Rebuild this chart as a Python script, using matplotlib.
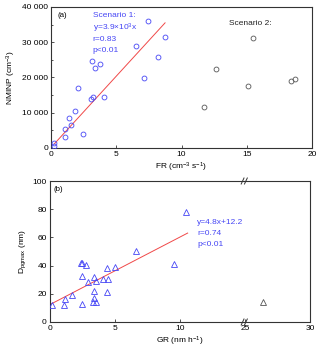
import matplotlib
matplotlib.use("Agg")
import matplotlib.pyplot as plt
from matplotlib.ticker import MultipleLocator, FuncFormatter
from matplotlib.lines import Line2D

plt.rcParams['font.family'] = ['Liberation Sans', 'DejaVu Sans']
plt.rcParams['mathtext.fontset'] = 'custom'
plt.rcParams['mathtext.rm'] = 'Liberation Sans'
plt.rcParams['mathtext.it'] = 'Liberation Sans'

# ---- Panel (a) data ----
s1_fr = [0.26, 0.22, 1.1, 1.1, 1.38, 1.56, 1.86, 2.09, 2.48, 3.07, 3.19, 3.17, 3.37, 3.75, 4.06,
         6.54, 7.15, 7.46, 8.22, 8.74]
s1_nminp = [1300, 500, 3100, 5500, 8500, 6600, 10400, 17000, 4100, 13900, 14400, 24800, 22600, 23800, 14600,
            28800, 19800, 35900, 25700, 31400]
s2_fr = [11.72, 12.62, 15.1, 15.5, 18.4, 18.7]
s2_nminp = [11600, 22300, 17500, 31300, 18900, 19700]
fit_a_x = [0.26, 8.74]
fit_a_y = [1200, 35500]

# ---- Panel (b) data ----
gr = [0.23, 1.15, 1.22, 1.71, 2.4, 2.5, 2.81, 2.53, 2.53, 2.98, 3.44, 3.55, 3.39, 3.37, 3.42, 3.6,
      4.08, 4.39, 4.46, 4.39, 5.0, 6.66, 9.54, 10.51]
dp = [11.8, 11.8, 16.1, 18.9, 42.1, 42.1, 40.2, 32.4, 12.8, 28.1, 32.2, 28.8, 22.0, 14.2, 17.0, 14.2,
      30.3, 38.1, 30.3, 21.3, 39.2, 50.4, 41.1, 78.0]
gr_out = [26.4]
dp_out = [13.9]
fit_b_x = [0.05, 10.6]
fit_b_slope = 4.8
fit_b_icpt = 12.2

BLUE = '#4646f5'
GRAY = '#555555'
RED = '#f04848'
SPINE = '#333333'
FS = 6.0
FT = 6.0

fig = plt.figure(figsize=(3.2, 3.52), dpi=100)

def style(ax):
    for s in ax.spines.values():
        s.set_color(SPINE)
        s.set_linewidth(0.8)
    ax.tick_params(which='both', direction='in', labelsize=FS, colors=SPINE, labelcolor='black', pad=2)
    ax.tick_params(which='major', length=2.5, width=0.6)
    ax.tick_params(which='minor', length=1.5, width=0.6)

# ---- Panel (a) ----
axa = fig.add_axes([51/320, 1 - 148/352, 261/320, 141/352])
style(axa)
axa.plot(fit_a_x, fit_a_y, color=RED, lw=0.7, zorder=2)
axa.plot(s1_fr, s1_nminp, 'o', mfc='none', mec=BLUE, ms=3.5, mew=0.6, zorder=3)
axa.plot(s2_fr, s2_nminp, 'o', mfc='none', mec=GRAY, ms=3.5, mew=0.6, zorder=3)
axa.set_xlim(0, 20)
axa.set_ylim(0, 40000)
axa.xaxis.set_major_locator(MultipleLocator(5))
axa.yaxis.set_major_locator(MultipleLocator(10000))
axa.yaxis.set_minor_locator(MultipleLocator(5000))
axa.yaxis.set_major_formatter(FuncFormatter(lambda v, p: '0' if v == 0 else f"{int(v):,}".replace(',', ' ')))
axa.set_xlabel('FR (cm$^{-3}$ s$^{-1}$)', fontsize=FT, labelpad=2)
axa.set_ylabel('NMINP (cm$^{-3}$)', fontsize=FT, labelpad=3)
axa.text(0.46, 37700, '(a)', fontsize=FS - 0.3, va='center', ha='left')
for t, yy in zip(['Scenario 1:', 'y=3.9×10$^3$x', 'r=0.83', 'p<0.01'], [37700, 34050, 30900, 27800]):
    axa.text(3.2, yy, t, color=BLUE, fontsize=FT, va='center', ha='left')
axa.text(13.66, 35200, 'Scenario 2:', color='#222222', fontsize=FT, va='center', ha='left')

# ---- Panel (b) broken axis ----
xl = 49.5 / 320
xb = 245 / 320
xr = 310 / 320
bb = 1 - 322 / 352
hh = 141 / 352
axb = fig.add_axes([xl, bb, xb - xl, hh])
axc = fig.add_axes([xb, bb, xr - xb, hh], sharey=axb)
for ax in (axb, axc):
    style(ax)
axb.spines['right'].set_visible(False)
axc.spines['left'].set_visible(False)
axc.tick_params(axis='y', which='both', left=False, labelleft=False)

xs = fit_b_x
axb.plot(xs, [fit_b_slope * v + fit_b_icpt for v in xs], color=RED, lw=0.7, zorder=2)
axb.plot(gr, dp, '^', mfc='none', mec=BLUE, ms=3.9, mew=0.6, zorder=3)
axc.plot(gr_out, dp_out, '^', mfc='none', mec=GRAY, ms=3.9, mew=0.6, zorder=3)
axb.set_xlim(0, 15)
axc.set_xlim(24.98, 30)
axb.set_ylim(0, 100)
axb.set_xticks([0, 5, 10])
axc.set_xticks([25, 30])
axb.yaxis.set_major_locator(MultipleLocator(20))
axb.set_ylabel('D$_{pgmax}$ (nm)', fontsize=FT, labelpad=3)
fig.text((xl + xr) / 2, 0.012, 'GR (nm h$^{-1}$)', fontsize=FT, ha='center', va='bottom')
axb.text(0.3, 94, '(b)', fontsize=FS - 0.3, va='center', ha='left')
for t, yy in zip(['y=4.8x+12.2', 'r=0.74', 'p<0.01'], [70.9, 62.9, 55.1]):
    axb.text(11.34, yy, t, color=BLUE, fontsize=FT, va='center', ha='left')

# break marks
for yfig in (bb, bb + hh):
    for dx in (-2.4, 0.9):
        x0 = (245 + dx - 1.4) / 320
        x1 = (245 + dx + 1.4) / 320
        fig.add_artist(Line2D([x0, x1], [yfig - 3 / 352, yfig + 3 / 352], color=SPINE, lw=0.7))

fig.savefig('out.png', dpi=100)
